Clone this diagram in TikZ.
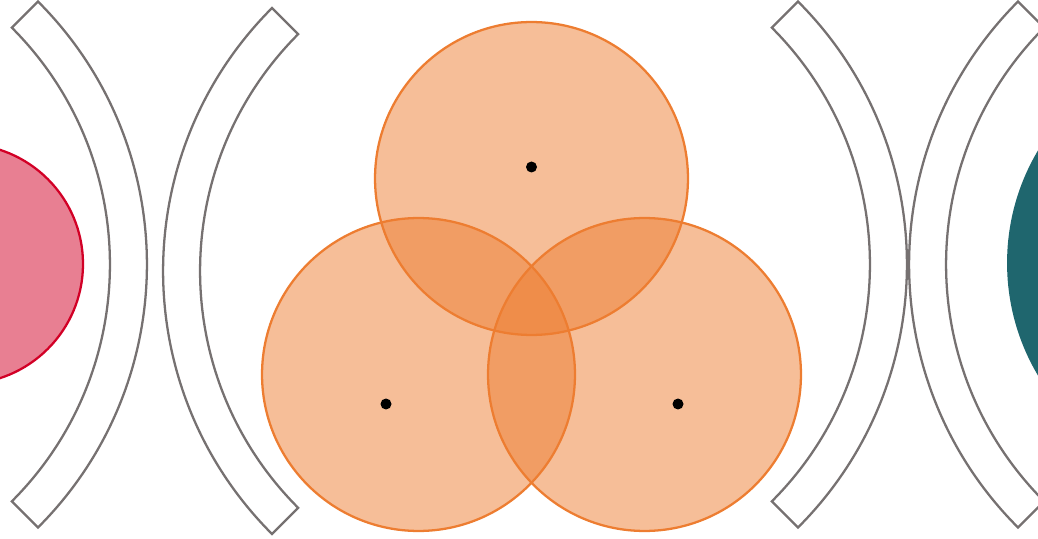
\documentclass[tikz,border=0pt]{standalone}
\usetikzlibrary{positioning}
\definecolor{flame}{RGB}{237,125,49}
\definecolor{crimson}{RGB}{210,0,38}
\definecolor{petrol}{RGB}{31,102,110}
\definecolor{shellgray}{RGB}{118,113,113}

\begin{document}
\begin{tikzpicture}[
  x=.02cm,
  y=.02cm,
  blob/.style={
    circle,
    draw=flame,
    fill=flame,
    fill opacity=.5,
    line width=1.3pt,
    inner sep=0pt,
    minimum size=6.26cm
  },
  dot/.style={circle,fill=black,inner sep=0pt,minimum size=.22cm},
  shell/.style={draw=shellgray,line width=1.3pt,line join=miter}
]
\clip (0,0) rectangle (1038,538);

% particles at the sides
\node[circle,draw=crimson,fill=crimson,fill opacity=.5,line width=1.3pt,
  inner sep=0pt,minimum size=4.8cm] (pinkball) at (-37,274) {};
\node[circle,fill=petrol,inner sep=0pt,minimum size=8.8cm]
  (tealball) at (1227,275) {};

% three overlapping spheres
\node[blob] (top) at (531.5,359.5) {};
\node[blob] (left) at (418.5,163.5) {};
\node[blob] (right) at (644.5,163.5) {};
\node[dot] (topdot) at (531.5,371) {};
\node[dot] (leftdot) at (386,134) {};
\node[dot] (rightdot) at (678,134) {};

% curved shells
\draw[shell,shift={(-225,273.5)}]
  (-45:6.7cm) arc[start angle=-45,end angle=45,radius=6.7cm]
  -- (45:7.44cm) arc[start angle=45,end angle=-45,radius=7.44cm] -- cycle;
\draw[shell,shift={(535,267)}]
  (135:6.7cm) arc[start angle=135,end angle=225,radius=6.7cm]
  -- (225:7.44cm) arc[start angle=225,end angle=135,radius=7.44cm] -- cycle;
\draw[shell,shift={(535,273.5)}]
  (-45:6.7cm) arc[start angle=-45,end angle=45,radius=6.7cm]
  -- (45:7.44cm) arc[start angle=45,end angle=-45,radius=7.44cm] -- cycle;
\draw[shell,shift={(1281,273.5)}]
  (135:6.7cm) arc[start angle=135,end angle=225,radius=6.7cm]
  -- (225:7.44cm) arc[start angle=225,end angle=135,radius=7.44cm] -- cycle;
\end{tikzpicture}
\end{document}
